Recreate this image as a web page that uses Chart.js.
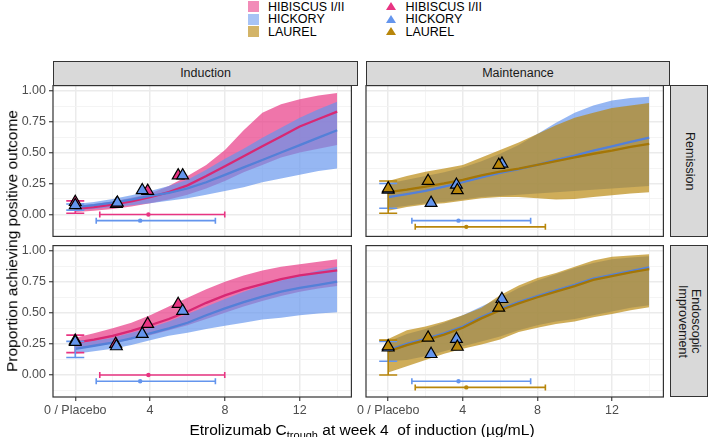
<!DOCTYPE html>
<html>
<head>
<meta charset="utf-8">
<script src="https://cdn.jsdelivr.net/npm/chart.js@4.4.1/dist/chart.umd.min.js"></script>
<style>
  html,body{margin:0;padding:0;}
  body{width:709px;height:437px;position:relative;overflow:hidden;background:#fff;font-family:"Liberation Sans",Arial,Helvetica,sans-serif;}
  canvas{position:absolute;}
  .strip{position:absolute;background:#D9D9D9;border:1px solid #333;box-sizing:border-box;color:#1A1A1A;font-size:12.5px;display:flex;align-items:center;justify-content:center;z-index:2;}
  .vtext{writing-mode:vertical-rl;text-align:center;line-height:13.5px;}
  .lg{position:absolute;font-size:12.5px;line-height:1;color:#000;white-space:nowrap;}
  .sq{position:absolute;width:11.5px;height:11px;}
  .tri{position:absolute;width:0;height:0;border-left:5px solid transparent;border-right:5px solid transparent;border-bottom-width:8px;border-bottom-style:solid;}
  .ytitle{position:absolute;left:11.5px;top:241px;transform:translate(-50%,-50%) rotate(-90deg);white-space:nowrap;font-size:15.5px;line-height:1;color:#000;}
  .xtitle{position:absolute;left:362px;top:422px;transform:translateX(-50%);white-space:nowrap;font-size:15.5px;line-height:1;color:#000;}
</style>
</head>
<body>
<!-- legend -->
<div class="sq" style="left:247.5px;top:1px;background:rgba(232,52,130,0.57)"></div>
<div class="sq" style="left:247.5px;top:13.5px;background:rgba(100,149,237,0.57)"></div>
<div class="sq" style="left:247.5px;top:26px;background:rgba(184,134,11,0.62)"></div>
<div class="lg" style="left:268px;top:0.5px">HIBISCUS I/II</div>
<div class="lg" style="left:268px;top:13px">HICKORY</div>
<div class="lg" style="left:268px;top:25.5px">LAUREL</div>
<div class="tri" style="left:386px;top:2px;border-bottom-color:#E83482"></div>
<div class="tri" style="left:386px;top:14.5px;border-bottom-color:#6495ED"></div>
<div class="tri" style="left:386px;top:27px;border-bottom-color:#B8860B"></div>
<div class="lg" style="left:405.5px;top:0.5px">HIBISCUS I/II</div>
<div class="lg" style="left:405.5px;top:13px">HICKORY</div>
<div class="lg" style="left:405.5px;top:25.5px">LAUREL</div>

<!-- strips -->
<div class="strip" style="left:53px;top:61px;width:305px;height:24.5px">Induction</div>
<div class="strip" style="left:366px;top:61px;width:304px;height:24.5px">Maintenance</div>
<div class="strip" style="left:669.5px;top:85px;width:38.5px;height:152px"><span class="vtext">Remission</span></div>
<div class="strip" style="left:669.5px;top:245px;width:38.5px;height:152px"><span class="vtext">Endoscopic<br>Improvement</span></div>

<canvas id="cTL" width="362" height="172" style="left:0px;top:75px"></canvas>
<canvas id="cTR" width="348" height="172" style="left:326px;top:75px"></canvas>
<canvas id="cBL" width="362" height="192" style="left:0px;top:235px"></canvas>
<canvas id="cBR" width="348" height="192" style="left:326px;top:235px"></canvas>

<div class="ytitle">Proportion achieving positive outcome</div>
<div class="xtitle">Etrolizumab C<span style="font-size:11px;position:relative;top:4px">trough</span> at week 4&nbsp; of induction (µg/mL)</div>

<script>
// ---------- axes ----------
const X_GRID = [0,1,2,3,4,5,6,7,8,9,10,11,12,13,14];
const X_TICKS = [0,2,4,6,8,10,12,14];
const X_MAJOR_TICKS = [0,4,8,12];
const X_MAJOR_LABELS = ['0 / Placebo','4','8','12'];
const Y_TICKS = [-0.125,0,0.125,0.25,0.375,0.5,0.625,0.75,0.875,1];
const Y_MAJOR_TICKS = [0,0.25,0.5,0.75,1];
const X_RANGE = [-1.19, 14.76];
const Y_RANGE = [-0.177, 1.04];

// ---------- Induction / Remission ----------
const hibIndRemFit = [0.045,0.06,0.08,0.105,0.14,0.18,0.235,0.31,0.39,0.47,0.55,0.63,0.71,0.77,0.83];
const hibIndRemLo  = [0.02,0.03,0.045,0.065,0.09,0.12,0.16,0.21,0.27,0.34,0.40,0.46,0.50,0.53,0.56];
const hibIndRemHi  = [0.07,0.085,0.105,0.135,0.17,0.23,0.31,0.40,0.52,0.68,0.82,0.89,0.93,0.96,0.98];
const hikIndRemFit = [0.06,0.075,0.095,0.12,0.15,0.175,0.21,0.26,0.32,0.38,0.44,0.50,0.56,0.62,0.68];
const hikIndRemLo  = [0.035,0.045,0.06,0.075,0.09,0.11,0.13,0.16,0.19,0.22,0.26,0.29,0.32,0.35,0.37];
const hikIndRemHi  = [0.085,0.10,0.125,0.155,0.19,0.23,0.28,0.36,0.45,0.53,0.62,0.70,0.78,0.85,0.91];
const hibIndRemObsX = [0,2.2,3.87,5.5];
const hibIndRemObsY = [0.10,0.085,0.19,0.315];
const hikIndRemObsX = [0,2.25,3.58,5.74];
const hikIndRemObsY = [0.075,0.095,0.195,0.315];
const hibIndRemPbo = [0.01,0.11];
const hikIndRemPbo = [0.035,0.085];

// ---------- Induction / Endoscopic improvement ----------
const hibIndEiFit = [0.26,0.285,0.315,0.355,0.40,0.45,0.51,0.58,0.64,0.69,0.73,0.77,0.80,0.82,0.84];
const hibIndEiLo  = [0.21,0.23,0.255,0.285,0.32,0.36,0.40,0.45,0.50,0.55,0.595,0.635,0.67,0.695,0.715];
const hibIndEiHi  = [0.30,0.335,0.375,0.42,0.48,0.55,0.62,0.69,0.75,0.80,0.84,0.87,0.89,0.91,0.93];
const hikIndEiFit = [0.21,0.235,0.26,0.295,0.335,0.375,0.42,0.48,0.535,0.585,0.63,0.67,0.70,0.725,0.75];
const hikIndEiLo  = [0.17,0.19,0.21,0.24,0.28,0.315,0.34,0.37,0.395,0.42,0.445,0.46,0.48,0.495,0.505];
const hikIndEiHi  = [0.25,0.275,0.30,0.34,0.38,0.43,0.49,0.55,0.61,0.67,0.72,0.76,0.80,0.84,0.87];
const hibIndEiObsX = [0,2.16,3.87,5.5];
const hibIndEiObsY = [0.275,0.25,0.41,0.57];
const hikIndEiObsX = [0,2.2,3.58,5.74];
const hikIndEiObsY = [0.265,0.23,0.33,0.515];
const hibIndEiPbo = [0.18,0.32];
const hikIndEiPbo = [0.14,0.27];

// ---------- Maintenance / Remission ----------
const hikMntRemFit = [0.14,0.165,0.19,0.225,0.26,0.30,0.335,0.365,0.40,0.44,0.475,0.515,0.55,0.585,0.62];
const hikMntRemLo  = [0.05,0.07,0.09,0.10,0.12,0.14,0.15,0.16,0.17,0.18,0.19,0.20,0.21,0.22,0.23];
const hikMntRemHi  = [0.25,0.28,0.31,0.34,0.38,0.43,0.49,0.56,0.65,0.74,0.82,0.88,0.92,0.94,0.95];
const lauMntRemFit = [0.18,0.20,0.225,0.25,0.28,0.315,0.345,0.37,0.40,0.43,0.46,0.49,0.515,0.545,0.57];
const lauMntRemLo  = [0.03,0.06,0.08,0.09,0.11,0.13,0.14,0.14,0.13,0.12,0.125,0.14,0.155,0.17,0.18];
const lauMntRemHi  = [0.27,0.31,0.345,0.37,0.40,0.46,0.52,0.58,0.65,0.72,0.78,0.82,0.86,0.88,0.90];
const hikMntRemObsX = [0,2.3,3.66,6.1];
const hikMntRemObsY = [0.20,0.093,0.24,0.41];
const lauMntRemObsX = [0,2.14,3.71,5.93];
const lauMntRemObsY = [0.21,0.27,0.195,0.40];
const hikMntRemPbo = [0.05,0.25];
const lauMntRemPbo = [0.01,0.27];

// ---------- Maintenance / Endoscopic improvement ----------
const hikMntEiFit = [0.20,0.25,0.29,0.335,0.39,0.465,0.53,0.585,0.635,0.68,0.725,0.775,0.805,0.835,0.865];
const hikMntEiLo  = [0.11,0.12,0.15,0.19,0.23,0.27,0.31,0.36,0.40,0.43,0.45,0.48,0.51,0.54,0.56];
const hikMntEiHi  = [0.27,0.33,0.37,0.42,0.48,0.55,0.62,0.70,0.76,0.81,0.86,0.90,0.93,0.945,0.955];
const lauMntEiFit = [0.19,0.24,0.28,0.325,0.38,0.455,0.52,0.575,0.625,0.67,0.715,0.765,0.795,0.825,0.85];
const lauMntEiLo  = [0.02,0.07,0.12,0.17,0.21,0.245,0.285,0.345,0.38,0.41,0.43,0.465,0.49,0.52,0.545];
const lauMntEiHi  = [0.29,0.36,0.39,0.43,0.48,0.54,0.64,0.72,0.78,0.82,0.87,0.92,0.95,0.96,0.97];
const hikMntEiObsX = [0,2.3,3.66,6.1];
const hikMntEiObsY = [0.22,0.168,0.29,0.61];
const lauMntEiObsX = [0,2.14,3.71,5.93];
const lauMntEiObsY = [0.23,0.30,0.226,0.54];
const hikMntEiPbo = [0.11,0.27];
const lauMntEiPbo = [0.0,0.28];

// ---------- exposure (Ctrough) ranges: [low, median, high] and row level ----------
const hibExposure = [1.31,3.91,7.99];
const hikIndExposure = [1.12,3.47,7.49];
const hikMntExposure = [1.27,3.77,7.64];
const lauExposure = [1.45,4.19,8.43];
const exposureLevels = [0, -0.05, -0.10];

// ---------- styles ----------
const COL = {hib:'#E83482', hik:'#6495ED', lau:'#B8860B'};
const FILL = {hib:'rgba(232,52,130,0.68)', hik:'rgba(100,149,237,0.68)', lau:'rgba(184,134,11,0.68)'};
const LINECOL = {hib:'#D82874', hik:'#5480D8', lau:'#A47606'};
const FONT = "'Liberation Sans', Arial, Helvetica, sans-serif";

function pts(xs, ys){ return xs.map((x,i)=>({x:x, y:ys[i]})); }

function studyDatasets(s, i){
  const ds = [];
  ds.push({type:'line', data: pts(X_GRID, s.lo), borderWidth:0, borderColor:'rgba(0,0,0,0)', pointRadius:0, fill:false, order:50-i});
  ds.push({type:'line', data: pts(X_GRID, s.hi), borderWidth:0, borderColor:'rgba(0,0,0,0)', pointRadius:0, fill:'-1', backgroundColor:FILL[s.key], order:50-i});
  ds.push({type:'line', data: pts(X_GRID, s.fit), borderWidth:2.3, borderColor:LINECOL[s.key], pointRadius:0, fill:false, order:30-i});
  // exposure range bar
  ds.push({type:'line', data:[{x:s.expo[0], y:exposureLevels[s.lev]},{x:s.expo[2], y:exposureLevels[s.lev]}],
    borderWidth:1.6, borderColor:COL[s.key], fill:false, pointStyle:'line', pointRotation:90, pointRadius:3,
    pointBorderColor:COL[s.key], pointBorderWidth:1.6, order:20-i});
  ds.push({type:'scatter', data:[{x:s.expo[1], y:exposureLevels[s.lev]}], pointStyle:'circle', pointRadius:2.2,
    pointBackgroundColor:COL[s.key], pointBorderWidth:0, order:20-i});
  // placebo CI
  ds.push({type:'line', data:[{x:0, y:s.pbo[0]},{x:0, y:s.pbo[1]}], borderWidth:1.6, borderColor:COL[s.key], fill:false,
    pointStyle:'line', pointRotation:0, pointRadius:9, pointBorderColor:COL[s.key], pointBorderWidth:1.6, order:20-i});
  // observed
  ds.push({type:'scatter', data: pts(s.obsX, s.obsY), pointStyle:'triangle', pointRadius:6.8,
    pointBackgroundColor:COL[s.key], pointBorderColor:'#000', pointBorderWidth:1.2, order:10-i});
  return ds;
}

const panelBorder = {
  id:'panelBorder',
  afterDraw(chart){
    const a = chart.chartArea, ctx = chart.ctx;
    ctx.save(); ctx.strokeStyle = '#333333'; ctx.lineWidth = 1.2;
    ctx.strokeRect(a.left, a.top, a.right - a.left, a.bottom - a.top);
    ctx.restore();
  }
};

function isMajor(list, v){ return list.some(m => Math.abs(m - v) < 1e-9); }

function makePanel(id, studies, showX, showY, pad){
  const datasets = [];
  studies.forEach((s,i) => datasets.push(...studyDatasets(s,i)));
  new Chart(document.getElementById(id), {
    type:'line',
    data:{datasets},
    options:{
      responsive:false, animation:false, events:[],
      layout:{padding:pad},
      plugins:{legend:{display:false}, tooltip:{enabled:false}},
      scales:{
        x:{type:'linear', min:X_RANGE[0], max:X_RANGE[1], bounds:'data',
          afterBuildTicks: sc => { sc.ticks = X_TICKS.map(v => ({value:v})); },
          afterFit: sc => { sc.height = showX ? 30 : 0; },
          border:{display:false},
          grid:{
            color: c => (c.tick && isMajor(X_MAJOR_TICKS, c.tick.value)) ? '#EBEBEB' : '#F3F3F3',
            lineWidth: c => (c.tick && isMajor(X_MAJOR_TICKS, c.tick.value)) ? 1.5 : 0.9,
            drawTicks: showX, tickLength:4,
            tickColor: c => (c.tick && isMajor(X_MAJOR_TICKS, c.tick.value)) ? '#333333' : 'rgba(0,0,0,0)',
            tickWidth: 1.1
          },
          ticks:{display:showX, autoSkip:false, maxRotation:0, minRotation:0, padding:2, color:'#4D4D4D',
            font:{family:FONT, size:12.5},
            callback: v => { const k = X_MAJOR_TICKS.findIndex(m => Math.abs(m - v) < 1e-9); return k >= 0 ? X_MAJOR_LABELS[k] : ''; }
          }
        },
        y:{type:'linear', min:Y_RANGE[0], max:Y_RANGE[1], bounds:'data',
          afterBuildTicks: sc => { sc.ticks = Y_TICKS.map(v => ({value:v})); },
          afterFit: sc => { sc.width = showY ? 53 : 0; },
          border:{display:false},
          grid:{
            color: c => (c.tick && isMajor(Y_MAJOR_TICKS, c.tick.value)) ? '#EBEBEB' : '#F3F3F3',
            lineWidth: c => (c.tick && isMajor(Y_MAJOR_TICKS, c.tick.value)) ? 1.5 : 0.9,
            drawTicks: showY, tickLength:4,
            tickColor: c => (c.tick && isMajor(Y_MAJOR_TICKS, c.tick.value)) ? '#333333' : 'rgba(0,0,0,0)',
            tickWidth: 1.1
          },
          ticks:{display:showY, autoSkip:false, padding:3, color:'#4D4D4D',
            font:{family:FONT, size:12.5},
            callback: v => isMajor(Y_MAJOR_TICKS, v) ? v.toFixed(2) : ''
          }
        }
      }
    },
    plugins:[panelBorder]
  });
}

makePanel('cTL', [
  {key:'hib', fit:hibIndRemFit, lo:hibIndRemLo, hi:hibIndRemHi, obsX:hibIndRemObsX, obsY:hibIndRemObsY, pbo:hibIndRemPbo, expo:hibExposure, lev:0},
  {key:'hik', fit:hikIndRemFit, lo:hikIndRemLo, hi:hikIndRemHi, obsX:hikIndRemObsX, obsY:hikIndRemObsY, pbo:hikIndRemPbo, expo:hikIndExposure, lev:1}
], false, true, {top:10, right:4, bottom:10, left:0});

makePanel('cBL', [
  {key:'hib', fit:hibIndEiFit, lo:hibIndEiLo, hi:hibIndEiHi, obsX:hibIndEiObsX, obsY:hibIndEiObsY, pbo:hibIndEiPbo, expo:hibExposure, lev:0},
  {key:'hik', fit:hikIndEiFit, lo:hikIndEiLo, hi:hikIndEiHi, obsX:hikIndEiObsX, obsY:hikIndEiObsY, pbo:hikIndEiPbo, expo:hikIndExposure, lev:1}
], true, true, {top:10, right:4, bottom:0, left:0});

makePanel('cTR', [
  {key:'hik', fit:hikMntRemFit, lo:hikMntRemLo, hi:hikMntRemHi, obsX:hikMntRemObsX, obsY:hikMntRemObsY, pbo:hikMntRemPbo, expo:hikMntExposure, lev:1},
  {key:'lau', fit:lauMntRemFit, lo:lauMntRemLo, hi:lauMntRemHi, obsX:lauMntRemObsX, obsY:lauMntRemObsY, pbo:lauMntRemPbo, expo:lauExposure, lev:2}
], false, false, {top:10, right:4, bottom:10, left:40});

makePanel('cBR', [
  {key:'hik', fit:hikMntEiFit, lo:hikMntEiLo, hi:hikMntEiHi, obsX:hikMntEiObsX, obsY:hikMntEiObsY, pbo:hikMntEiPbo, expo:hikMntExposure, lev:1},
  {key:'lau', fit:lauMntEiFit, lo:lauMntEiLo, hi:lauMntEiHi, obsX:lauMntEiObsX, obsY:lauMntEiObsY, pbo:lauMntEiPbo, expo:lauExposure, lev:2}
], true, false, {top:10, right:4, bottom:0, left:40});
</script>
</body>
</html>
